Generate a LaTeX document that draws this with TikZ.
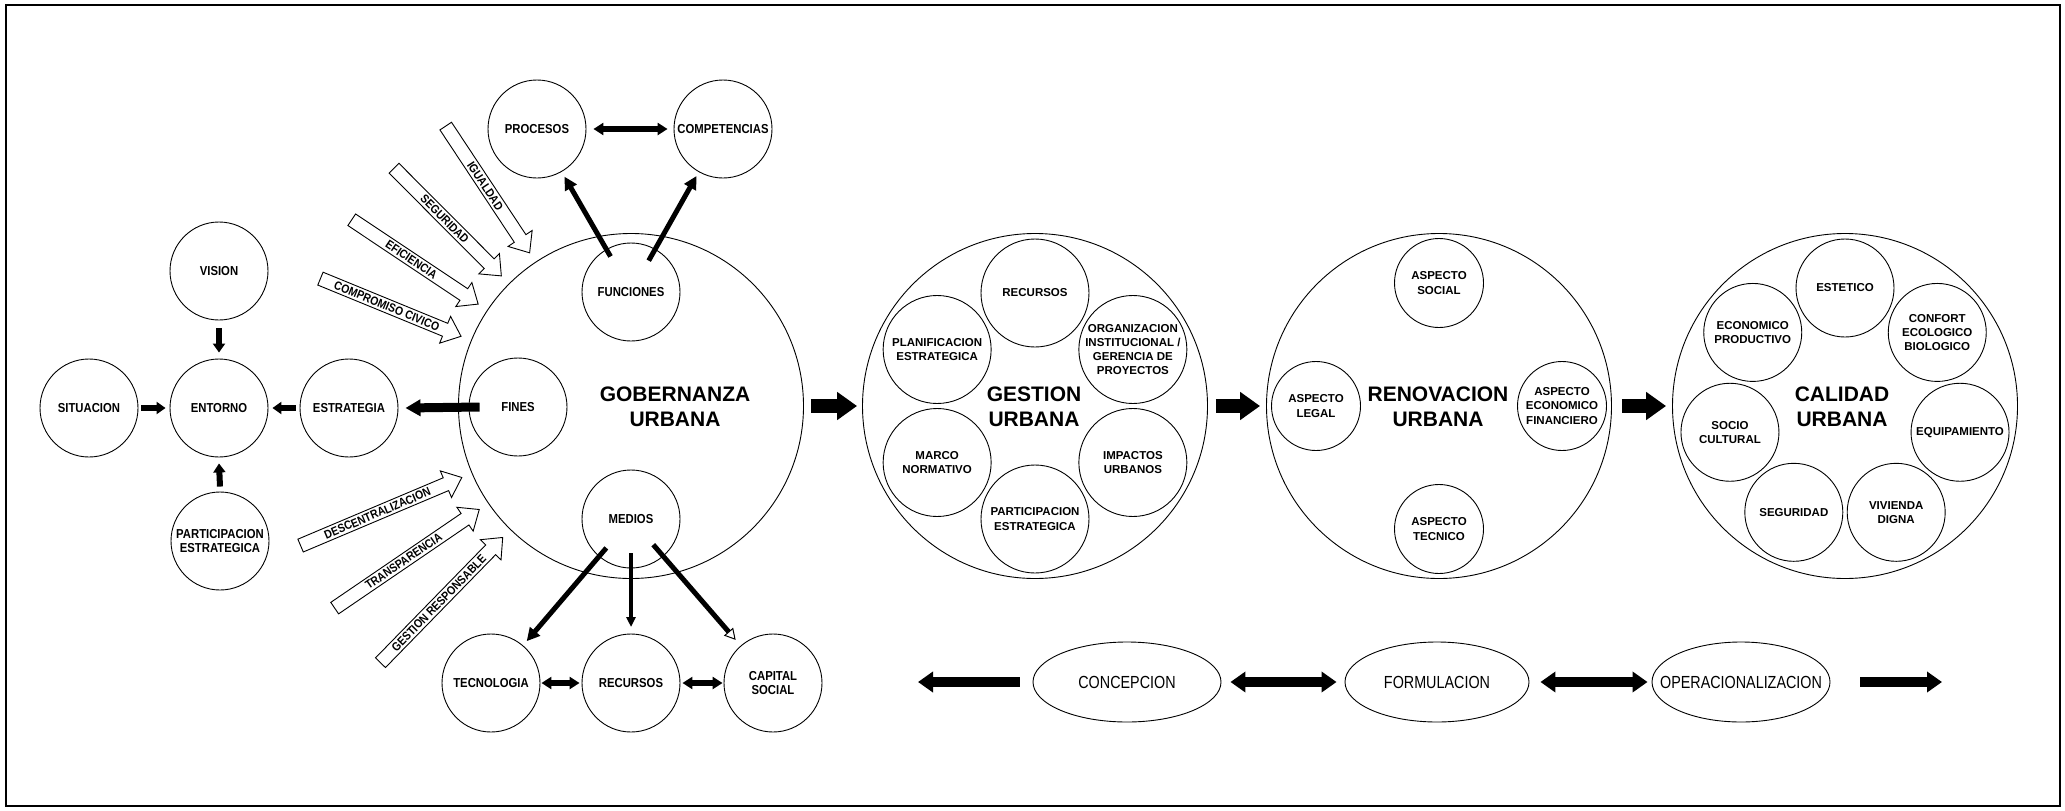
\documentclass[tikz,border=0pt]{standalone}
\usepackage{fontspec}
\setmainfont{Liberation Sans}
\newfontfamily\narrowf{Liberation Sans}[FakeStretch=0.87]
\newfontfamily\condf{Liberation Sans}[FakeStretch=0.82]
\usetikzlibrary{shapes.geometric,shapes.arrows,arrows.meta,calc}
\newcommand\ctext[1]{\makebox[0pt]{#1}}
\tikzset{
  basec/.style={circle, draw, line width=0.9pt, inner sep=0pt, align=center},
  lnode/.style={basec, minimum size=98pt, font=\narrowf\bfseries\fontsize{13}{14}\selectfont},
  gnode/.style={basec, minimum size=108pt, font=\bfseries\fontsize{11.5}{14.3}\selectfont},
  rnode/.style={basec, minimum size=89pt, font=\bfseries\fontsize{11.5}{14.3}\selectfont},
  cnode/.style={basec, minimum size=98pt, font=\bfseries\fontsize{11.5}{14.3}\selectfont},
  bigc/.style={circle, draw, line width=0.9pt, minimum size=345pt, inner sep=0pt},
  ttl/.style={align=center, inner sep=0pt, font=\bfseries\fontsize{21}{25}\selectfont},
  ell/.style={ellipse, draw, line width=0.9pt, minimum height=80pt, inner sep=0pt, font=\condf\fontsize{17.5}{20}\selectfont},
  valarrow/.style={single arrow, draw, line width=0.9pt, fill=white,
    single arrow head extend=7.5pt, single arrow tip angle=80,
    inner xsep=2pt, inner ysep=2.2pt, text height=8.6pt, text depth=0pt,
    font=\narrowf\bfseries\fontsize{12}{13}\selectfont, anchor=tip},
  bigarr/.style={line width=14pt, -{Triangle[width=27pt,length=20pt]}},
  finarr/.style={line width=9pt, -{Triangle[width=16pt,length=15pt]}},
  tinyarr/.style={line width=6pt, -{Triangle[width=12pt,length=9pt]}},
  diagarr/.style={line width=5pt, -{Triangle[width=13pt,length=13pt]}},
  thinarr/.style={line width=3.5pt, -{Triangle[width=9pt,length=10pt]}},
  openarr/.style={line width=5pt, -{Triangle[open,width=12pt,length=11pt,line width=1pt]}},
  dblarr/.style={line width=6pt, {Triangle[width=12pt,length=10pt]}-{Triangle[width=12pt,length=10pt]}},
  botarr/.style={line width=10pt, -{Triangle[width=20pt,length=15pt]}},
  botdbl/.style={line width=10pt, {Triangle[width=20pt,length=15pt]}-{Triangle[width=20pt,length=15pt]}},
}
\begin{document}
\begin{tikzpicture}[x=1pt,y=1pt]
\useasboundingbox (0,0) rectangle (2065,-811);
\draw[line width=1.5pt] (6,-5) rectangle (2060,-806);

% ---------- GOBERNANZA ----------
\node[bigc] (gob) at (631,-406) {};
\node[ttl] (gobt) at (675,-407) {GOBERNANZA\\URBANA};
\node[lnode] (proc) at (537,-129) {PROCESOS};
\node[lnode] (comp) at (723,-129) {COMPETENCIAS};
\node[lnode] (func) at (631,-292) {FUNCIONES};
\node[lnode] (fines) at (518,-407) {FINES};
\node[lnode] (medios) at (631,-519) {MEDIOS};
\node[lnode] (tec) at (491,-683) {TECNOLOGIA};
\node[lnode] (rec) at (631,-683) {RECURSOS};
\node[lnode] (cap) at (773,-683) {CAPITAL\\SOCIAL};
\node[lnode] (vis) at (219,-271) {VISION};
\node[lnode] (sit) at (89,-408) {SITUACION};
\node[lnode] (ent) at (219,-408) {ENTORNO};
\node[lnode] (estr) at (349,-408) {ESTRATEGIA};
\node[lnode] (part) at (220,-541) {PARTICIPACION\\ESTRATEGICA};

\draw[tinyarr] ([yshift=-8pt]vis.south) -- ([yshift=6pt]ent.north);
\draw[tinyarr] ([yshift=5pt]part.north) -- ([yshift=-6pt]ent.south);
\draw[tinyarr] ([xshift=3pt]sit.east) -- ([xshift=-4pt]ent.west);
\draw[tinyarr] ([xshift=-4pt]estr.west) -- ([xshift=4pt]ent.east);
\draw[finarr] ([xshift=11pt]fines.west) -- ([xshift=7pt]estr.east);
\draw[dblarr] ([xshift=7pt]proc.east) -- ([xshift=-6pt]comp.west);
\draw[diagarr, shorten <=41pt, shorten >=55pt] (func.center) -- (proc.center);
\draw[diagarr, shorten <=36pt, shorten >=54pt] (func.center) -- (comp.center);
\draw[diagarr, shorten <=38pt, shorten >=55pt] (medios.center) -- (tec.center);
\draw[thinarr, shorten <=34pt, shorten >=56pt] (medios.center) -- (rec.center);
\draw[openarr, shorten <=34pt, shorten >=57pt] (medios.center) -- (cap.center);
\draw[dblarr] ([xshift=1pt]tec.east) -- ([xshift=-2pt]rec.west);
\draw[dblarr] ([xshift=2pt]rec.east) -- ([xshift=-1pt]cap.west);

% value arrows
\node[valarrow, minimum height=152pt, rotate=-56.5] (va1) at ($(gob.center)+(123.5:183)$) {IGUALDAD};
\node[valarrow, minimum height=152pt, rotate=-45.1] (va2) at ($(gob.center)+(134.9:183)$) {SEGURIDAD};
\node[valarrow, minimum height=152pt, rotate=-33.7] (va3) at ($(gob.center)+(146.3:183)$) {EFICIENCIA};
\node[valarrow, minimum height=152pt, rotate=-22.3] (va4) at ($(gob.center)+(157.7:183)$) {COMPROMISO CIVICO};
\node[valarrow, minimum height=175pt, rotate=22.9] (va5) at ($(gob.center)+(202.9:183)$) {DESCENTRALIZACION};
\node[valarrow, minimum height=175pt, rotate=34.3] (va6) at ($(gob.center)+(214.3:183)$) {TRANSPARENCIA};
\node[valarrow, minimum height=175pt, rotate=45.7] (va7) at ($(gob.center)+(225.7:183)$) {GESTION RESPONSABLE};

% ---------- GESTION ----------
\node[bigc] (gest) at (1035,-406) {};
\node[ttl] (gestt) at (1034,-407) {GESTION\\URBANA};
\node[gnode] (g1) at ($(gest.center)+(90:113)$) {RECURSOS};
\node[gnode] (g2) at ($(gest.center)+(150:113)$) {PLANIFICACION\\ESTRATEGICA};
\node[gnode] (g3) at ($(gest.center)+(30:113)$) {ORGANIZACION\\INSTITUCIONAL /\\GERENCIA DE\\PROYECTOS};
\node[gnode] (g4) at ($(gest.center)+(210:113)$) {MARCO\\NORMATIVO};
\node[gnode] (g5) at ($(gest.center)+(330:113)$) {IMPACTOS\\URBANOS};
\node[gnode] (g6) at ($(gest.center)+(270:113)$) {PARTICIPACION\\ESTRATEGICA};

% ---------- RENOVACION ----------
\node[bigc] (ren) at (1439,-406) {};
\node[ttl] (rent) at (1438,-407) {RENOVACION\\URBANA};
\node[rnode] (r1) at ($(ren.center)+(90:123)$) {ASPECTO\\SOCIAL};
\node[rnode] (r2) at ($(ren.center)+(180:123)$) {ASPECTO\\LEGAL};
\node[rnode] (r3) at ($(ren.center)+(0:123)$) {ASPECTO\\ECONOMICO\\FINANCIERO};
\node[rnode] (r4) at ($(ren.center)+(270:123)$) {ASPECTO\\TECNICO};

% ---------- CALIDAD ----------
\node[bigc] (cal) at (1845,-406) {};
\node[ttl] (calt) at (1842,-407) {CALIDAD\\URBANA};
\node[cnode] (c1) at ($(cal.center)+(90:118)$) {ESTETICO};
\node[cnode] (c2) at ($(cal.center)+(38.57:118)$) {CONFORT\\ECOLOGICO\\BIOLOGICO};
\node[cnode] (c3) at ($(cal.center)+(-12.86:118)$) {EQUIPAMIENTO};
\node[cnode] (c4) at ($(cal.center)+(-64.29:118)$) {VIVIENDA\\DIGNA};
\node[cnode] (c5) at ($(cal.center)+(-115.71:118)$) {SEGURIDAD};
\node[cnode] (c6) at ($(cal.center)+(-167.14:118)$) {SOCIO\\CULTURAL};
\node[cnode] (c7) at ($(cal.center)+(141.43:118)$) {ECONOMICO\\PRODUCTIVO};

% big arrows
\draw[bigarr] ([xshift=7pt]gob.east) -- ([xshift=-5pt]gest.west);
\draw[bigarr] ([xshift=8pt]gest.east) -- ([xshift=-6pt]ren.west);
\draw[bigarr] ([xshift=10pt]ren.east) -- ([xshift=-6pt]cal.west);

% ---------- bottom row ----------
\node[ell, minimum width=188pt] (conc) at (1127,-682) {\ctext{CONCEPCION}};
\node[ell, minimum width=184pt] (form) at (1437,-682) {\ctext{FORMULACION}};
\node[ell, minimum width=178pt] (oper) at (1741,-682) {\ctext{OPERACIONALIZACION}};
\coordinate (lend) at (918,-682);
\coordinate (rend) at (1942,-682);
\draw[botarr] ([xshift=-13pt]conc.west) -- (lend);
\draw[botdbl] ([xshift=9pt]conc.east) -- ([xshift=-8pt]form.west);
\draw[botdbl] ([xshift=11pt]form.east) -- ([xshift=-4pt]oper.west);
\draw[botarr] ([xshift=30pt]oper.east) -- (rend);
\end{tikzpicture}
\end{document}
